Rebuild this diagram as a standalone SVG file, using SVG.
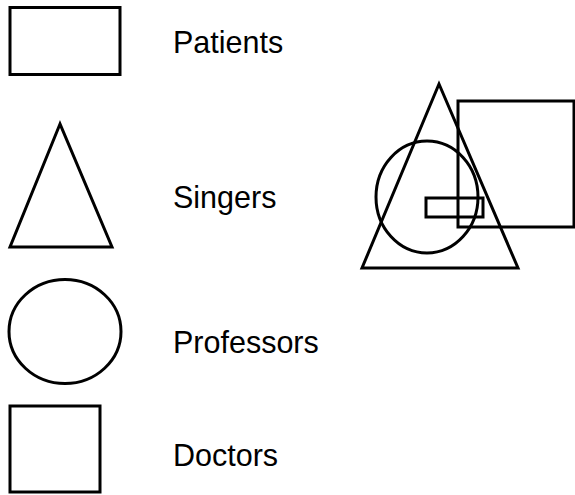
<svg xmlns="http://www.w3.org/2000/svg" width="575" height="495" viewBox="0 0 575 495">
<style>
.s{fill:none;stroke:#000;stroke-width:3}
.t{font-family:"Liberation Sans",Arial,sans-serif;font-size:30.5px;fill:#000}
</style>
<rect width="575" height="495" fill="#fff"/>
<g id="legend-patients">
<rect class="s" x="10" y="7.5" width="110" height="67"/>
<text class="t" x="173" y="53">Patients</text>
</g>
<g id="legend-singers">
<polygon class="s" points="60,124 10,247 112,247"/>
<text class="t" x="173" y="208">Singers</text>
</g>
<g id="legend-professors">
<ellipse class="s" cx="65" cy="331.5" rx="56" ry="52"/>
<text class="t" x="173" y="353">Professors</text>
</g>
<g id="legend-doctors">
<rect class="s" x="10" y="406" width="90" height="86"/>
<text class="t" x="173" y="466">Doctors</text>
</g>
<g id="composite">
<polygon class="s" points="439,84 362,268 518,268"/>
<rect class="s" x="458" y="101" width="116" height="126"/>
<ellipse class="s" cx="427" cy="197" rx="51" ry="56"/>
<rect class="s" x="426" y="198" width="57" height="19"/>
</g>
</svg>
